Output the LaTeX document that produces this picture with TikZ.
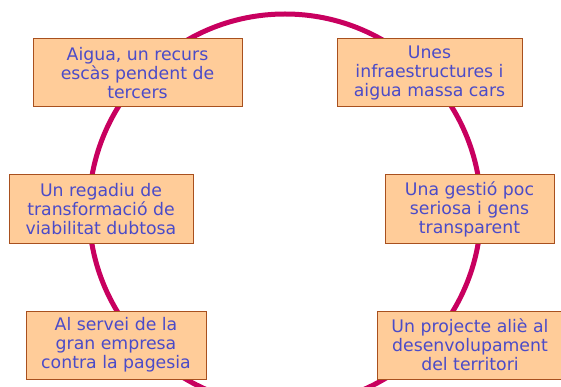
\documentclass[tikz,border=0pt]{standalone}
\usepackage{fontspec}
\setmainfont{DejaVu Sans}
\usetikzlibrary{positioning}
\definecolor{boxfill}{HTML}{FFCC99}
\definecolor{boxline}{HTML}{A8501E}
\definecolor{boxtext}{HTML}{4B4BC8}
\definecolor{ring}{HTML}{C8005F}
\tikzset{
    issue/.style={draw=boxline, fill=boxfill, text=boxtext, line width=1pt,
        align=center, minimum height=68pt, inner sep=1pt,
        font=\fontsize{17.3}{19}\selectfont}
}
\begin{document}
\begin{tikzpicture}[x=1pt, y=-1pt]
                \useasboundingbox (0,0) rectangle (561,387);
                \clip (0,0) rectangle (561,387);
                \draw[ring, line width=5pt] (285,210) circle[radius=196];
                \node[issue, minimum width=209pt] (1) at (137.5,73) {Aigua, un recurs\\escàs pendent de\\tercers};
                \node[issue, minimum width=185pt] (2) at (429.5,73) {Unes\\infraestructures i\\aigua massa cars};
                \node[issue, minimum width=184pt] (3) at (101,209) {Un regadiu de\\transformació de\\viabilitat dubtosa};
                \node[issue, minimum width=169pt] (4) at (469.5,209) {Una gestió poc\\seriosa i gens\\transparent};
                \node[issue, minimum width=180pt] (5) at (116,345) {Al servei de la\\gran empresa\\contra la pagesia};
                \node[issue, minimum width=186pt] (6) at (470,345) {Un projecte aliè al\\desenvolupament\\del territori};
            \end{tikzpicture}
\end{document}
